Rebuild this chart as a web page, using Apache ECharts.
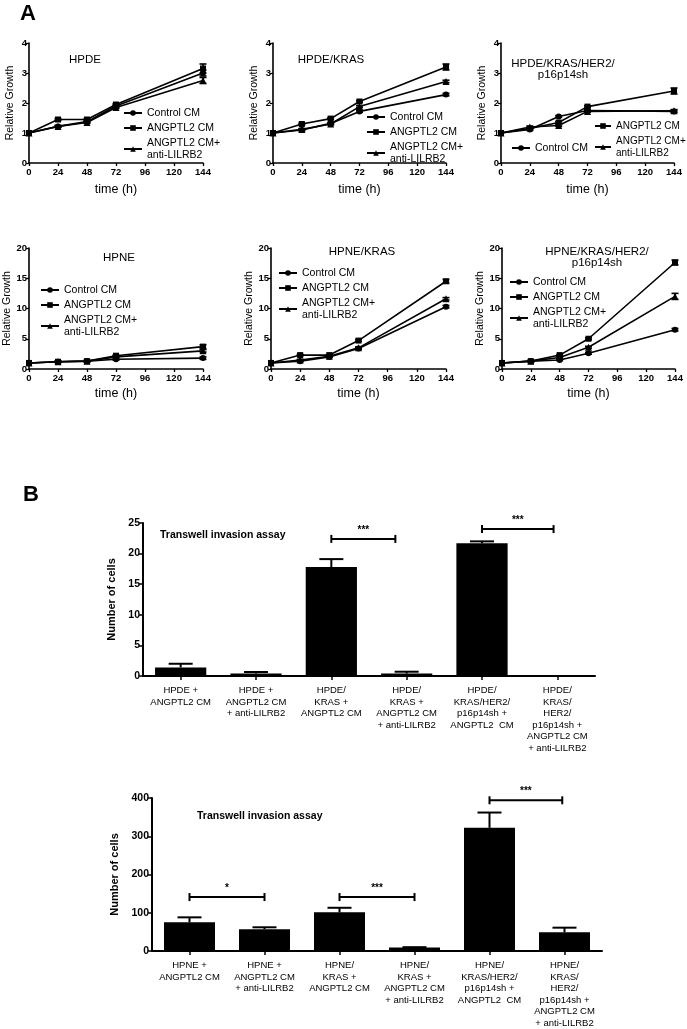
<!DOCTYPE html>
<html><head><meta charset="utf-8">
<script src="https://cdn.jsdelivr.net/npm/echarts@6/dist/echarts.min.js"></script>
<style>html,body{margin:0;padding:0;background:#fff}#c{width:687px;height:1029px}</style>
</head><body><div id="c"></div>
<script>
// ---------- DATA ----------
const timePoints = [0, 24, 48, 72, 144];
const seriesNames = ['Control CM', 'ANGPTL2 CM', 'ANGPTL2 CM+ anti-LILRB2'];
const panelTitles = ['HPDE', 'HPDE/KRAS', 'HPDE/KRAS/HER2/\np16p14sh', 'HPNE', 'HPNE/KRAS', 'HPNE/KRAS/HER2/\np16p14sh'];
const topRowTicks = [0, 1, 2, 3, 4];
const bottomRowTicks = [0, 5, 10, 15, 20];
const timeTicks = [0, 24, 48, 72, 96, 120, 144];

const hpdeControl = [1, 1.22, 1.38, 1.90, 3.00];
const hpdeAngptl2 = [1, 1.45, 1.45, 1.95, 3.15];
const hpdeAnti = [1, 1.22, 1.35, 1.85, 2.75];
const hpdeControlErr = [0, 0.03, 0.03, 0.03, 0.10];
const hpdeAngptl2Err = [0, 0.03, 0.03, 0.03, 0.15];
const hpdeAntiErr = [0, 0.03, 0.03, 0.03, 0.10];

const hpdeKrasControl = [1, 1.10, 1.32, 1.72, 2.28];
const hpdeKrasAngptl2 = [1, 1.30, 1.48, 2.05, 3.20];
const hpdeKrasAnti = [1, 1.12, 1.30, 1.88, 2.72];
const hpdeKrasControlErr = [0, 0.03, 0.03, 0.03, 0.04];
const hpdeKrasAngptl2Err = [0, 0.03, 0.03, 0.03, 0.10];
const hpdeKrasAntiErr = [0, 0.03, 0.03, 0.03, 0.04];

const hpdeFullControl = [1, 1.12, 1.55, 1.75, 1.72];
const hpdeFullAngptl2 = [1, 1.15, 1.35, 1.88, 2.40];
const hpdeFullAnti = [1, 1.20, 1.25, 1.72, 1.74];
const hpdeFullControlErr = [0, 0.03, 0.03, 0.03, 0.04];
const hpdeFullAngptl2Err = [0, 0.03, 0.03, 0.03, 0.10];
const hpdeFullAntiErr = [0, 0.03, 0.03, 0.03, 0.04];

const hpneControl = [1, 1.2, 1.3, 1.6, 1.8];
const hpneAngptl2 = [1, 1.2, 1.3, 2.2, 3.7];
const hpneAnti = [1, 1.2, 1.3, 2.0, 3.0];
const hpneControlErr = [0, 0.1, 0.1, 0.1, 0.2];
const hpneAngptl2Err = [0, 0.1, 0.1, 0.1, 0.3];
const hpneAntiErr = [0, 0.1, 0.1, 0.1, 0.2];

const hpneKrasControl = [1, 1.3, 2.0, 3.4, 10.3];
const hpneKrasAngptl2 = [1, 2.3, 2.3, 4.7, 14.5];
const hpneKrasAnti = [1, 1.5, 2.1, 3.5, 11.6];
const hpneKrasControlErr = [0, 0.1, 0.1, 0.15, 0.2];
const hpneKrasAngptl2Err = [0, 0.1, 0.1, 0.15, 0.3];
const hpneKrasAntiErr = [0, 0.1, 0.1, 0.15, 0.2];

const hpneFullControl = [1, 1.3, 1.5, 2.6, 6.5];
const hpneFullAngptl2 = [1, 1.3, 2.3, 5.0, 17.6];
const hpneFullAnti = [1, 1.3, 1.9, 3.6, 12.0];
const hpneFullControlErr = [0, 0.1, 0.1, 0.15, 0.2];
const hpneFullAngptl2Err = [0, 0.1, 0.1, 0.15, 0.4];
const hpneFullAntiErr = [0, 0.1, 0.1, 0.15, 0.5];

const hpdeBarCategories = ['HPDE +\nANGPTL2 CM', 'HPDE +\nANGPTL2 CM\n+ anti-LILRB2', 'HPDE/\nKRAS +\nANGPTL2 CM', 'HPDE/\nKRAS +\nANGPTL2 CM\n+ anti-LILRB2', 'HPDE/\nKRAS/HER2/\np16p14sh +\nANGPTL2  CM', 'HPDE/\nKRAS/\nHER2/\np16p14sh +\nANGPTL2 CM\n+ anti-LILRB2'];
const hpdeBarValues = [1.4, 0.4, 17.8, 0.4, 21.7, 0];
const hpdeBarErrors = [0.6, 0.25, 1.3, 0.3, 0.3, 0];
const hpdeBarTicks = [0, 5, 10, 15, 20, 25];
const hpdeBrackets = [[2, 2.85, 22.4, '***'], [4, 4.95, 24.0, '***']];

const hpneBarCategories = ['HPNE +\nANGPTL2 CM', 'HPNE +\nANGPTL2 CM\n+ anti-LILRB2', 'HPNE/\nKRAS +\nANGPTL2 CM', 'HPNE/\nKRAS +\nANGPTL2 CM\n+ anti-LILRB2', 'HPNE/\nKRAS/HER2/\np16p14sh +\nANGPTL2  CM', 'HPNE/\nKRAS/\nHER2/\np16p14sh +\nANGPTL2 CM\n+ anti-LILRB2'];
const hpneBarValues = [75, 57, 101, 9, 322, 49];
const hpneBarErrors = [13, 5, 12, 1, 40, 12];
const hpneBarTicks = [0, 100, 200, 300, 400];
const hpneBrackets = [[0, 1, 141, '*'], [2, 3, 141, '***'], [4, 4.97, 394, '***']];

const barTitle = 'Transwell invasion assay';

// ---------- BUILD ----------
const FONT = '"Liberation Sans", Arial, Helvetica, sans-serif';
const panels = [
  [hpdeControl, hpdeAngptl2, hpdeAnti, hpdeControlErr, hpdeAngptl2Err, hpdeAntiErr],
  [hpdeKrasControl, hpdeKrasAngptl2, hpdeKrasAnti, hpdeKrasControlErr, hpdeKrasAngptl2Err, hpdeKrasAntiErr],
  [hpdeFullControl, hpdeFullAngptl2, hpdeFullAnti, hpdeFullControlErr, hpdeFullAngptl2Err, hpdeFullAntiErr],
  [hpneControl, hpneAngptl2, hpneAnti, hpneControlErr, hpneAngptl2Err, hpneAntiErr],
  [hpneKrasControl, hpneKrasAngptl2, hpneKrasAnti, hpneKrasControlErr, hpneKrasAngptl2Err, hpneKrasAntiErr],
  [hpneFullControl, hpneFullAngptl2, hpneFullAnti, hpneFullControlErr, hpneFullAngptl2Err, hpneFullAntiErr]
];
const symbols = ['circle', 'rect', 'triangle'];

const grids = [
  {left: 29, top: 43, width: 174, height: 120},
  {left: 273, top: 43, width: 173, height: 120},
  {left: 501, top: 43, width: 173, height: 120},
  {left: 29, top: 248, width: 174, height: 121},
  {left: 271, top: 248, width: 175, height: 121},
  {left: 502, top: 248, width: 173, height: 121},
  {left: 143, top: 523, width: 452, height: 153},
  {left: 152, top: 798, width: 450, height: 153}
];

const axisLineStyle = {show: true, lineStyle: {color: '#000', width: 1.6}};
const xAxes = [], yAxes = [], series = [];

for (let p = 0; p < 6; p++) {
  const top = p < 3;
  const ticks = top ? topRowTicks : bottomRowTicks;
  xAxes.push({
    type: 'value', gridIndex: p, min: timeTicks[0], max: timeTicks[timeTicks.length - 1], interval: timeTicks[1] - timeTicks[0],
    axisLine: axisLineStyle, axisTick: {show: true, length: 3, lineStyle: {width: 1.3, color: '#000'}},
    axisLabel: {color: '#000', fontFamily: FONT, fontWeight: 'bold', fontSize: 9.5, margin: 4, showMaxLabel: true, showMinLabel: true},
    splitLine: {show: false},
    name: 'time (h)', nameLocation: 'middle', nameGap: top ? 20 : 18,
    nameTextStyle: {color: '#000', fontFamily: FONT, fontSize: 12.5}
  });
  yAxes.push({
    type: 'value', gridIndex: p, min: ticks[0], max: ticks[ticks.length - 1], interval: ticks[1] - ticks[0],
    axisLine: axisLineStyle, axisTick: {show: true, length: 3, lineStyle: {width: 1.3, color: '#000'}},
    axisLabel: {color: '#000', fontFamily: FONT, fontWeight: 'bold', fontSize: 9.5, margin: 2},
    splitLine: {show: false},
    name: 'Relative Growth', nameLocation: 'middle', nameGap: top ? 13 : 16,
    nameTextStyle: {color: '#000', fontFamily: FONT, fontSize: 10.5}
  });
  const d = panels[p];
  for (let s = 0; s < 3; s++) {
    series.push({
      type: 'line', name: seriesNames[s], xAxisIndex: p, yAxisIndex: p,
      data: timePoints.map((t, i) => [t, d[s][i]]),
      symbol: symbols[s], symbolSize: s === 2 ? 7 : 6, showSymbol: true,
      lineStyle: {color: '#000', width: 1.6}, itemStyle: {color: '#000'},
      animation: false, silent: true, z: 3
    });
    series.push({
      type: 'custom', xAxisIndex: p, yAxisIndex: p, animation: false, silent: true, z: 4,
      data: timePoints.map((t, i) => [t, d[s][i], d[s + 3][i]]),
      renderItem: function (params, api) {
        const x = api.value(0), y = api.value(1), e = api.value(2);
        if (!e) return;
        const hi = api.coord([x, y + e]), lo = api.coord([x, y - e]);
        const w = 3.5;
        return {type: 'group', children: [
          {type: 'line', shape: {x1: hi[0], y1: hi[1], x2: lo[0], y2: lo[1]}, style: {stroke: '#000', lineWidth: 1.6}},
          {type: 'line', shape: {x1: hi[0] - w, y1: hi[1], x2: hi[0] + w, y2: hi[1]}, style: {stroke: '#000', lineWidth: 1.6}},
          {type: 'line', shape: {x1: lo[0] - w, y1: lo[1], x2: lo[0] + w, y2: lo[1]}, style: {stroke: '#000', lineWidth: 1.6}}
        ]};
      }
    });
  }
}

// bar charts
const barSets = [
  [hpdeBarCategories, hpdeBarValues, hpdeBarErrors, hpdeBarTicks, hpdeBrackets],
  [hpneBarCategories, hpneBarValues, hpneBarErrors, hpneBarTicks, hpneBrackets]
];
barSets.forEach((b, k) => {
  const gi = 6 + k;
  const [cats, vals, errs, ticks, brackets] = b;
  xAxes.push({
    type: 'category', gridIndex: gi, data: cats,
    axisLine: {show: true, lineStyle: {color: '#000', width: 2}},
    axisTick: {show: true, alignWithLabel: true, length: 4, lineStyle: {width: 1.5, color: '#000'}},
    axisLabel: {interval: 0, color: '#000', fontFamily: FONT, fontSize: 9.5, lineHeight: 11.5, margin: 9, align: 'center'}
  });
  yAxes.push({
    type: 'value', gridIndex: gi, min: ticks[0], max: ticks[ticks.length - 1], interval: ticks[1] - ticks[0],
    axisLine: {show: true, lineStyle: {color: '#000', width: 2}},
    axisTick: {show: true, length: 4, lineStyle: {width: 1.5, color: '#000'}},
    axisLabel: {color: '#000', fontFamily: FONT, fontWeight: 'bold', fontSize: 10.5, margin: 3},
    splitLine: {show: false},
    name: 'Number of cells', nameLocation: 'middle', nameGap: k === 0 ? 22 : 28,
    nameTextStyle: {color: '#000', fontFamily: FONT, fontSize: 11, fontWeight: 'bold'}
  });
  series.push({
    type: 'bar', xAxisIndex: gi, yAxisIndex: gi, data: vals, barWidth: '68%',
    itemStyle: {color: '#000'}, animation: false, silent: true
  });
  series.push({
    type: 'custom', xAxisIndex: gi, yAxisIndex: gi, animation: false, silent: true, z: 5,
    data: vals.map((v, i) => [i, v, errs[i]]),
    renderItem: function (params, api) {
      const i = api.value(0), v = api.value(1), e = api.value(2);
      if (!e) return;
      const base = api.coord([i, v]), hi = api.coord([i, v + e]);
      const w = 12;
      return {type: 'group', children: [
        {type: 'line', shape: {x1: base[0], y1: base[1], x2: hi[0], y2: hi[1]}, style: {stroke: '#000', lineWidth: 2}},
        {type: 'line', shape: {x1: hi[0] - w, y1: hi[1], x2: hi[0] + w, y2: hi[1]}, style: {stroke: '#000', lineWidth: 2}}
      ]};
    }
  });
  series.push({
    type: 'custom', xAxisIndex: gi, yAxisIndex: gi, animation: false, silent: true, z: 5,
    data: brackets,
    renderItem: function (params, api) {
      const a = api.value(0), c = api.value(1), y = api.value(2);
      const label = brackets[params.dataIndex][3];
      const p0 = api.coord([0, y]), p1 = api.coord([1, y]);
      const band = p1[0] - p0[0];
      const xa = p0[0] + a * band, xb = p0[0] + c * band, yy = p0[1];
      return {type: 'group', children: [
        {type: 'line', shape: {x1: xa, y1: yy, x2: xb, y2: yy}, style: {stroke: '#000', lineWidth: 2}},
        {type: 'line', shape: {x1: xa, y1: yy - 4, x2: xa, y2: yy + 4}, style: {stroke: '#000', lineWidth: 2}},
        {type: 'line', shape: {x1: xb, y1: yy - 4, x2: xb, y2: yy + 4}, style: {stroke: '#000', lineWidth: 2}},
        {type: 'text', x: (xa + xb) / 2, y: yy - 4, style: {text: label, fill: '#000', font: 'bold 10px ' + FONT, textAlign: 'center', textVerticalAlign: 'bottom'}}
      ]};
    }
  });
});

const legendFormatter = n => n === seriesNames[2] ? 'ANGPTL2 CM+\nanti-LILRB2' : n;
const legendBase = {orient: 'vertical', itemWidth: 18, itemHeight: 7, itemGap: 3, selectedMode: false,
  textStyle: {color: '#000', fontFamily: FONT, fontSize: 10.5, lineHeight: 12}, formatter: legendFormatter, padding: 0};
const narrowText = {color: '#000', fontFamily: FONT, fontSize: 10, lineHeight: 12};
const legends = [
  Object.assign({}, legendBase, {left: 123, top: 107, data: seriesNames}),
  Object.assign({}, legendBase, {left: 366, top: 111, data: seriesNames}),
  Object.assign({}, legendBase, {left: 594, top: 120, itemWidth: 16, data: [seriesNames[1], seriesNames[2]], textStyle: narrowText}),
  Object.assign({}, legendBase, {left: 511, top: 142, data: [seriesNames[0]]}),
  Object.assign({}, legendBase, {left: 40, top: 284, data: seriesNames}),
  Object.assign({}, legendBase, {left: 278, top: 267, data: seriesNames}),
  Object.assign({}, legendBase, {left: 509, top: 276, data: seriesNames})
];

const titleCenters = [[85, 60], [331, 60], [563, 69], [119, 258], [362, 252], [597, 257]];
const graphics = [
  {type: 'text', left: 20, top: 3, style: {text: 'A', font: 'bold 22px ' + FONT, fill: '#000'}},
  {type: 'text', left: 23, top: 484, style: {text: 'B', font: 'bold 22px ' + FONT, fill: '#000'}},
  {type: 'text', left: 160, top: 530, style: {text: barTitle, font: 'bold 10.5px ' + FONT, fill: '#000'}},
  {type: 'text', left: 197, top: 811, style: {text: barTitle, font: 'bold 10.5px ' + FONT, fill: '#000'}}
];
panelTitles.forEach((t, i) => {
  graphics.push({type: 'text', x: titleCenters[i][0], y: titleCenters[i][1],
    style: {text: t, font: '11.5px ' + FONT, fill: '#000', textAlign: 'center', textVerticalAlign: 'middle', lineHeight: 11}});
});

const chart = echarts.init(document.getElementById('c'), null, {renderer: 'canvas'});
chart.setOption({
  backgroundColor: '#fff',
  animation: false,
  grid: grids,
  xAxis: xAxes,
  yAxis: yAxes,
  legend: legends,
  series: series,
  graphic: graphics
});
</script></body></html>
